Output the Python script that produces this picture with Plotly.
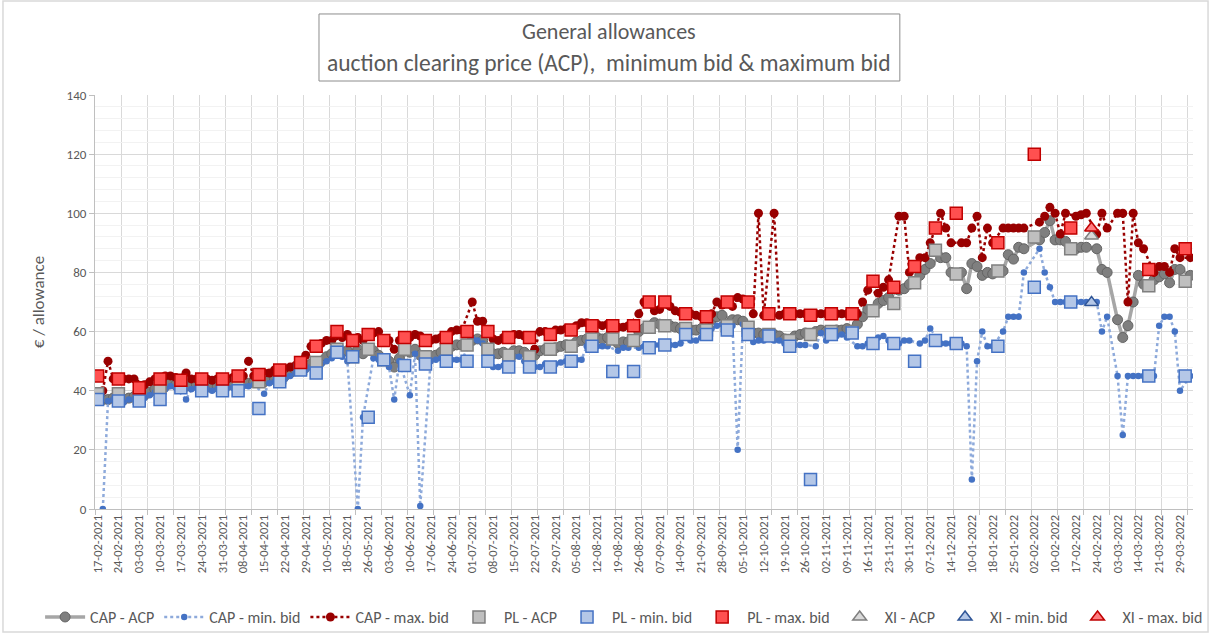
import plotly.graph_objects as go

N = 211
idx = list(range(N))

tick_labels = ["17-02-2021","24-02-2021","03-03-2021","10-03-2021","17-03-2021","24-03-2021","31-03-2021",
               "08-04-2021","15-04-2021","22-04-2021","29-04-2021","10-05-2021","18-05-2021","26-05-2021",
               "03-06-2021","10-06-2021","17-06-2021","24-06-2021","01-07-2021","08-07-2021","15-07-2021",
               "22-07-2021","29-07-2021","05-08-2021","12-08-2021","19-08-2021","26-08-2021","07-09-2021",
               "14-09-2021","21-09-2021","28-09-2021","05-10-2021","12-10-2021","19-10-2021","26-10-2021",
               "02-11-2021","09-11-2021","16-11-2021","23-11-2021","30-11-2021","07-12-2021","14-12-2021",
               "10-01-2022","18-01-2022","25-01-2022","02-02-2022","10-02-2022","17-02-2022","24-02-2022",
               "03-03-2022","14-03-2022","21-03-2022","29-03-2022"]

_ = None
cap_acp = [
 _,37,37,37.5,_,37,37.5,38,_,38.5,
 39.5,40.5,_,41.5,42.5,42,_,41.5,41.5,42,
 _,41.5,41,41.5,_,42,42,_,42.5,42.5,
 43,_,43,43.5,44,_,45,46,47,_,
 48,49,_,50,51.5,52.5,_,53,53.5,_,
 54,52.5,_,53.5,52,_,50,48,51,_,
 53,54,52,_,51.5,52,53,_,55,55.5,
 55.5,_,57,57.5,57,_,52.5,52.5,53,_,
 53.5,53.5,53,_,52,53.5,54,_,54.5,55,
 55.5,_,56.5,57,57.5,_,58,57.5,58,_,
 56,56.5,56.5,_,60,61,_,63,62.5,_,
 62,61.5,61,_,60.5,60.5,61,_,64,65,
 65.5,_,64,64,63.5,_,59.5,59.5,59,_,
 59,58.5,57.5,_,58.5,59,59.5,_,60,60.5,
 60,_,60.5,60.5,61,_,62.5,65,67.5,_,
 69.5,70.5,71.5,_,74,74.5,76,_,79,81,
 83,_,85,85,80,_,80,74.5,83,82,
 79,80,79.5,_,80.5,86,84.5,88.5,88,_,
 _,91,93.5,97.5,91,91,90.5,_,88,88.5,
 88.5,_,88,81,80,_,64,58,62,70,
 79,76,_,77.5,78.5,79.5,76.5,81,81,_,
 79]

cap_min = [
 _,0,36.5,37,_,36,37,37,_,37.5,
 38.5,39.5,_,40.5,41.5,41,_,37,40.5,41,
 _,40.5,40,40.5,_,41,41,_,41.5,41.5,
 42,_,39,42.5,43,_,44,45,46,_,
 47,48,_,49,50,51,_,51.5,50,_,
 0,31,_,51,50.5,_,48,37,50,_,
 38.5,52.5,1,_,50,50.5,51,_,50.5,50.5,
 50.5,_,57.5,57,56,_,48,48,48.5,_,
 51.5,51.5,50,_,48,48,49,_,49,49.5,
 50,_,50.5,50.5,55,_,55,55,55,_,
 53.5,54.5,54.5,_,54.5,55,_,55.5,55.5,_,
 55.5,55.5,56,_,57,57,58,_,61,62,
 62.5,_,62,20,62.5,_,56.5,57,57,_,
 57,57,56,_,55.5,55.5,55.5,_,55,59.5,
 57,_,58.5,59,58,_,55,55,56,_,
 58,58.5,57,_,56,57,57,_,56,57,
 61,_,56,56,56,_,56,55,10,50,
 60,55,55,_,60,65,65,65,80,_,
 _,88,80,75,70,70,70,_,70,70,
 70,_,70,60,65,_,45,25,45,45,
 45,45,_,45,62,65,65,60,40,_,
 45]

cap_max = [
 _,40,50,44,_,44,44,44,_,42,
 43,44,_,45,45,44.5,_,46,44,44,
 _,44,43.5,44,_,44,44.5,_,45,50,
 45,_,46,46,47,_,47.5,48,48.5,_,
 52,55,_,56,57,57,_,58,59,_,
 58,57,_,59.5,60,_,57,54,57,_,
 58,59,58.5,_,57,57.5,58,_,60,60.5,
 60.5,_,70,63.5,63.5,_,57.5,57,58,_,
 59,59,58.5,_,54,60,60,_,60.5,60.5,
 61,_,62,63,63,_,62.5,62,62.5,_,
 61.5,61.5,62,_,66,70,_,67,67.5,_,
 68.5,67,66.5,_,66,65.5,65,_,66,70,
 69,_,68.5,71.5,71,_,66,100,65.5,_,
 100,65.5,66,_,66,66,66,_,66,66,
 66,_,66,66,66,_,66,70,74,_,
 73,75,77.5,_,99,99,80,_,85,85,
 90,_,100,95,90,_,90,90,95,99,
 85,95,90,_,95,95,95,95,95,_,
 _,97,99,102,100,93,100,_,99,99.5,
 100,_,93,100,95,_,100,100,70,100,
 90,88,_,80,82,82,80,88,85,_,
 85]

pl_idx = [0,4,8,12,16,20,24,27,31,35,39,42,46,49,52,55,59,63,67,71,75,79,83,87,91,95,
          99,103,106,109,113,117,121,125,129,133,137,141,145,149,153,157,161,165,173,180,187,202,209]
pl_acp = [39,39,37.5,41,42.5,41.5,42,42.5,43,44.5,47.5,49.5,54,51.5,54,50.5,54,51.5,54,55.5,54,52,51.5,54,55,57.5,
          57.5,57,61.5,62,61,60.5,62,61.5,59,57,59,60,60,67,69.5,76.5,87.5,79.5,80.5,92,88,75.5,77]
pl_min = [37,36.5,36.5,37,41,40,40,40,34,43,47,46,53,51.5,31,50.5,48.5,49,50,50,50,48,48,48,50,55,
          46.5,46.5,54.5,55.5,59,59,60.5,59,58.5,55,10,59,59.5,56,56,50,57,56,55,75,70,45,45]
pl_max = [45,44,41,44,43.5,44,44,45,45.5,47,49.5,55,60,57,59,57,58,57,58,60,60,58,58,59,60.5,62,
          62,62,70,70,66,65,70,70,66,66,65.5,66,66,77,75,82,95,100,90,120,95,81,88]

xi_idx = [191]
xi_acp = [92.3]
xi_min = [69.8]
xi_max = [95]

font_fam = "Carlito, Lato, 'Open Sans', sans-serif"
txt_col = "#595959"

fig = go.Figure()
fig.add_trace(go.Scatter(x=idx, y=cap_acp, name="CAP - ACP", mode="lines+markers", connectgaps=True,
                         line=dict(color="#a6a6a6", width=3.5),
                         marker=dict(symbol="circle", size=10, color="#7f7f7f", line=dict(color="#646464", width=1))))
fig.add_trace(go.Scatter(x=idx, y=cap_min, name="CAP - min. bid", mode="lines+markers", connectgaps=True,
                         line=dict(color="#8eaadb", width=2.5, dash="dot"),
                         marker=dict(symbol="circle", size=6.5, color="#4472c4")))
fig.add_trace(go.Scatter(x=idx, y=cap_max, name="CAP - max. bid", mode="lines+markers", connectgaps=True,
                         line=dict(color="#990000", width=2.5, dash="dot"),
                         marker=dict(symbol="circle", size=9, color="#990000")))
fig.add_trace(go.Scatter(x=pl_idx, y=pl_acp, name="PL - ACP", mode="markers",
                         marker=dict(symbol="square", size=12, color="#bfbfbf", line=dict(color="#7f7f7f", width=1.5))))
fig.add_trace(go.Scatter(x=pl_idx, y=pl_min, name="PL - min. bid", mode="markers",
                         marker=dict(symbol="square", size=12, color="#b4c7e7", line=dict(color="#4472c4", width=1.5))))
fig.add_trace(go.Scatter(x=pl_idx, y=pl_max, name="PL - max. bid", mode="markers",
                         marker=dict(symbol="square", size=12, color="#ff5050", line=dict(color="#c00000", width=1.5))))
fig.add_trace(go.Scatter(x=xi_idx, y=xi_acp, name="XI - ACP", mode="markers",
                         marker=dict(symbol="triangle-up", size=12, color="#d9d9d9", line=dict(color="#7f7f7f", width=1.5))))
fig.add_trace(go.Scatter(x=xi_idx, y=xi_min, name="XI - min. bid", mode="markers",
                         marker=dict(symbol="triangle-up", size=12, color="#b4c7e7", line=dict(color="#2f5597", width=1.5))))
fig.add_trace(go.Scatter(x=xi_idx, y=xi_max, name="XI - max. bid", mode="markers",
                         marker=dict(symbol="triangle-up", size=12, color="#ff7c80", line=dict(color="#c00000", width=1.5))))

xr = [-0.5, N - 0.5]
fig.update_layout(
    width=1211, height=635,
    margin=dict(l=95, r=18, t=95, b=126, autoexpand=False),
    paper_bgcolor="white", plot_bgcolor="white",
    font=dict(family=font_fam, color=txt_col, size=13),
    showlegend=True,
    legend=dict(orientation="h", x=-0.05, xanchor="left", y=-0.261, yanchor="middle",
                font=dict(size=16, color=txt_col), itemwidth=40, tracegroupgap=0,
                bgcolor="rgba(0,0,0,0)"),
    xaxis=dict(range=xr, tickmode="array", tickvals=[4 * k for k in range(len(tick_labels))],
               ticktext=tick_labels, tickangle=-90, ticks="", showgrid=False,
               tickfont=dict(size=12.5, color=txt_col),
               minor=dict(tickmode="linear", tick0=-0.5, dtick=5, ticks="outside", ticklen=5,
                          tickcolor="#bfbfbf", showgrid=True, gridcolor="#d9d9d9", gridwidth=1),
               showline=True, linecolor="#bfbfbf", linewidth=1, zeroline=False, automargin=False),
    yaxis=dict(range=[0, 140], tickmode="linear", tick0=0, dtick=20,
               showgrid=True, gridcolor="#d9d9d9", gridwidth=1,
               minor=dict(dtick=4, showgrid=True, gridcolor="#f2f2f2", gridwidth=1),
               ticks="outside", ticklen=5, tickcolor="#bfbfbf",
               showline=True, linecolor="#bfbfbf", zeroline=False, automargin=False,
               tickfont=dict(size=13, color=txt_col),
               title=dict(text="€ / allowance", font=dict(size=17, color=txt_col), standoff=17)),
)

# chart area border
fig.add_shape(type="rect", xref="paper", yref="paper", x0=-0.0838, x1=1.0137, y0=-0.297, y1=1.227,
              line=dict(color="#d9d9d9", width=1.5), fillcolor="rgba(0,0,0,0)", layer="below")
# title box
fig.add_shape(type="rect", xref="paper", yref="paper", x0=0.204, x1=0.733, y0=1.0338, y1=1.1957,
              line=dict(color="#8c8c8c", width=1), fillcolor="white")
fig.add_annotation(xref="paper", yref="paper", x=0.4685, y=(509 - 32) / 414, text="General allowances",
                   showarrow=False, font=dict(size=22, color=txt_col), yanchor="middle")
fig.add_annotation(xref="paper", yref="paper", x=0.4685, y=(509 - 63) / 414,
                   text="auction clearing price (ACP),\u00a0 minimum bid &amp; maximum bid",
                   showarrow=False, font=dict(size=23.5, color=txt_col), yanchor="middle")

fig.write_html("out.html", config={"displayModeBar": False},
               post_script="document.body.style.margin='0px';")
